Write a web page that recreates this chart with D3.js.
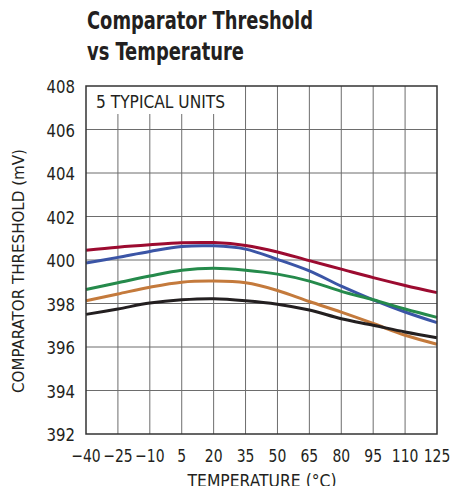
<!DOCTYPE html>
<meta charset="utf-8">
<script src="https://d3js.org/d3.v7.min.js"></script>
<style>
  body { margin: 0; background: #fff; }
  text { font-family: "Liberation Sans Narrow", "DejaVu Sans Condensed", "Roboto Condensed", sans-serif; fill: #231f20; }
</style>
<div id="chart"></div>
<script>
  // temperatures (°C) and the five typical units (mV)
  var temps = [-40, -25, -10, 5, 20, 35, 50, 65, 80, 95, 110, 125];
  var unitRed    = [400.45, 400.59, 400.70, 400.79, 400.80, 400.67, 400.37, 399.97, 399.58, 399.19, 398.83, 398.50];
  var unitBlue   = [399.86, 400.12, 400.39, 400.62, 400.65, 400.50, 400.03, 399.50, 398.80, 398.17, 397.61, 397.12];
  var unitGreen  = [398.64, 398.95, 399.26, 399.53, 399.62, 399.53, 399.35, 399.03, 398.56, 398.17, 397.75, 397.36];
  var unitOrange = [398.13, 398.44, 398.75, 398.98, 399.03, 398.95, 398.60, 398.09, 397.60, 397.08, 396.54, 396.13];
  var unitBlack  = [397.50, 397.75, 398.02, 398.17, 398.22, 398.13, 397.97, 397.70, 397.30, 397.00, 396.69, 396.43];
  var yTicks = [392, 394, 396, 398, 400, 402, 404, 406, 408];

  var series = [
    {vals: unitRed, color: "#9c0b30"},
    {vals: unitBlue, color: "#3b55a6"},
    {vals: unitGreen, color: "#258a4b"},
    {vals: unitOrange, color: "#c47a3c"},
    {vals: unitBlack, color: "#231f20"}
  ];

  var W = 466, H = 486;
  var m = {left: 86, right: 437, top: 86, bottom: 434};

  var svg = d3.select("#chart").append("svg")
    .attr("width", W).attr("height", H);

  var x = d3.scaleLinear().domain([-40, 125]).range([m.left, m.right]);
  var y = d3.scaleLinear().domain([392, 408]).range([m.bottom, m.top]);

  // squeeze a text to look like the narrow face of the original
  function narrow(sel, k) {
    sel.each(function() {
      var w = this.getComputedTextLength();
      d3.select(this).attr("textLength", w * k).attr("lengthAdjust", "spacingAndGlyphs");
    });
  }

  // title
  svg.append("text")
    .attr("x", 87).attr("y", 29)
    .attr("textLength", 226).attr("lengthAdjust", "spacingAndGlyphs")
    .style("font-size", "25px").style("font-weight", "bold")
    .text("Comparator Threshold");
  svg.append("text")
    .attr("x", 87).attr("y", 60)
    .attr("textLength", 157).attr("lengthAdjust", "spacingAndGlyphs")
    .style("font-size", "25px").style("font-weight", "bold")
    .text("vs Temperature");

  // grid
  svg.append("g").selectAll("line").data(temps.slice(1, -1)).join("line")
    .attr("x1", d => x(d)).attr("x2", d => x(d))
    .attr("y1", m.top).attr("y2", m.bottom)
    .attr("stroke", "#6d6d6d").attr("stroke-width", 1);
  svg.append("g").selectAll("line").data(yTicks.slice(1, -1)).join("line")
    .attr("x1", m.left).attr("x2", m.right)
    .attr("y1", d => y(d)).attr("y2", d => y(d))
    .attr("stroke", "#6d6d6d").attr("stroke-width", 1);

  // label box over the grid
  svg.append("rect")
    .attr("x", m.left).attr("y", m.top).attr("width", 146).attr("height", 28)
    .attr("fill", "#fff");
  svg.append("text")
    .attr("x", 96).attr("y", 108)
    .attr("textLength", 129).attr("lengthAdjust", "spacingAndGlyphs")
    .style("font-size", "17px")
    .text("5 TYPICAL UNITS");

  // curves
  var line = d3.line()
    .x((d, i) => x(temps[i]))
    .y(d => y(d))
    .curve(d3.curveCatmullRom.alpha(0.5));

  svg.append("g").selectAll("path").data(series).join("path")
    .attr("d", d => line(d.vals))
    .attr("fill", "none")
    .attr("stroke", d => d.color)
    .attr("stroke-width", 3);

  // frame
  svg.append("rect")
    .attr("x", m.left).attr("y", m.top)
    .attr("width", m.right - m.left).attr("height", m.bottom - m.top)
    .attr("fill", "none").attr("stroke", "#333").attr("stroke-width", 1.5);

  // tick labels
  svg.append("g").selectAll("text").data(yTicks).join("text")
    .attr("x", 75).attr("y", d => y(d) + 7)
    .attr("text-anchor", "end")
    .style("font-size", "18px")
    .text(d => d)
    .call(narrow, 0.92);

  svg.append("g").selectAll("text").data(temps).join("text")
    .attr("x", d => x(d)).attr("y", 462)
    .attr("text-anchor", "middle")
    .style("font-size", "18px")
    .text(d => String(d).replace("-", "\u2212"))
    .call(narrow, 0.86);

  // axis titles
  svg.append("text")
    .attr("transform", "translate(24,271) rotate(-90)")
    .attr("text-anchor", "middle")
    .attr("textLength", 244).attr("lengthAdjust", "spacingAndGlyphs")
    .style("font-size", "16px")
    .text("COMPARATOR THRESHOLD (mV)");

  svg.append("text")
    .attr("x", 262).attr("y", 487)
    .attr("text-anchor", "middle")
    .attr("textLength", 149).attr("lengthAdjust", "spacingAndGlyphs")
    .style("font-size", "17px")
    .text("TEMPERATURE (°C)");
</script>
